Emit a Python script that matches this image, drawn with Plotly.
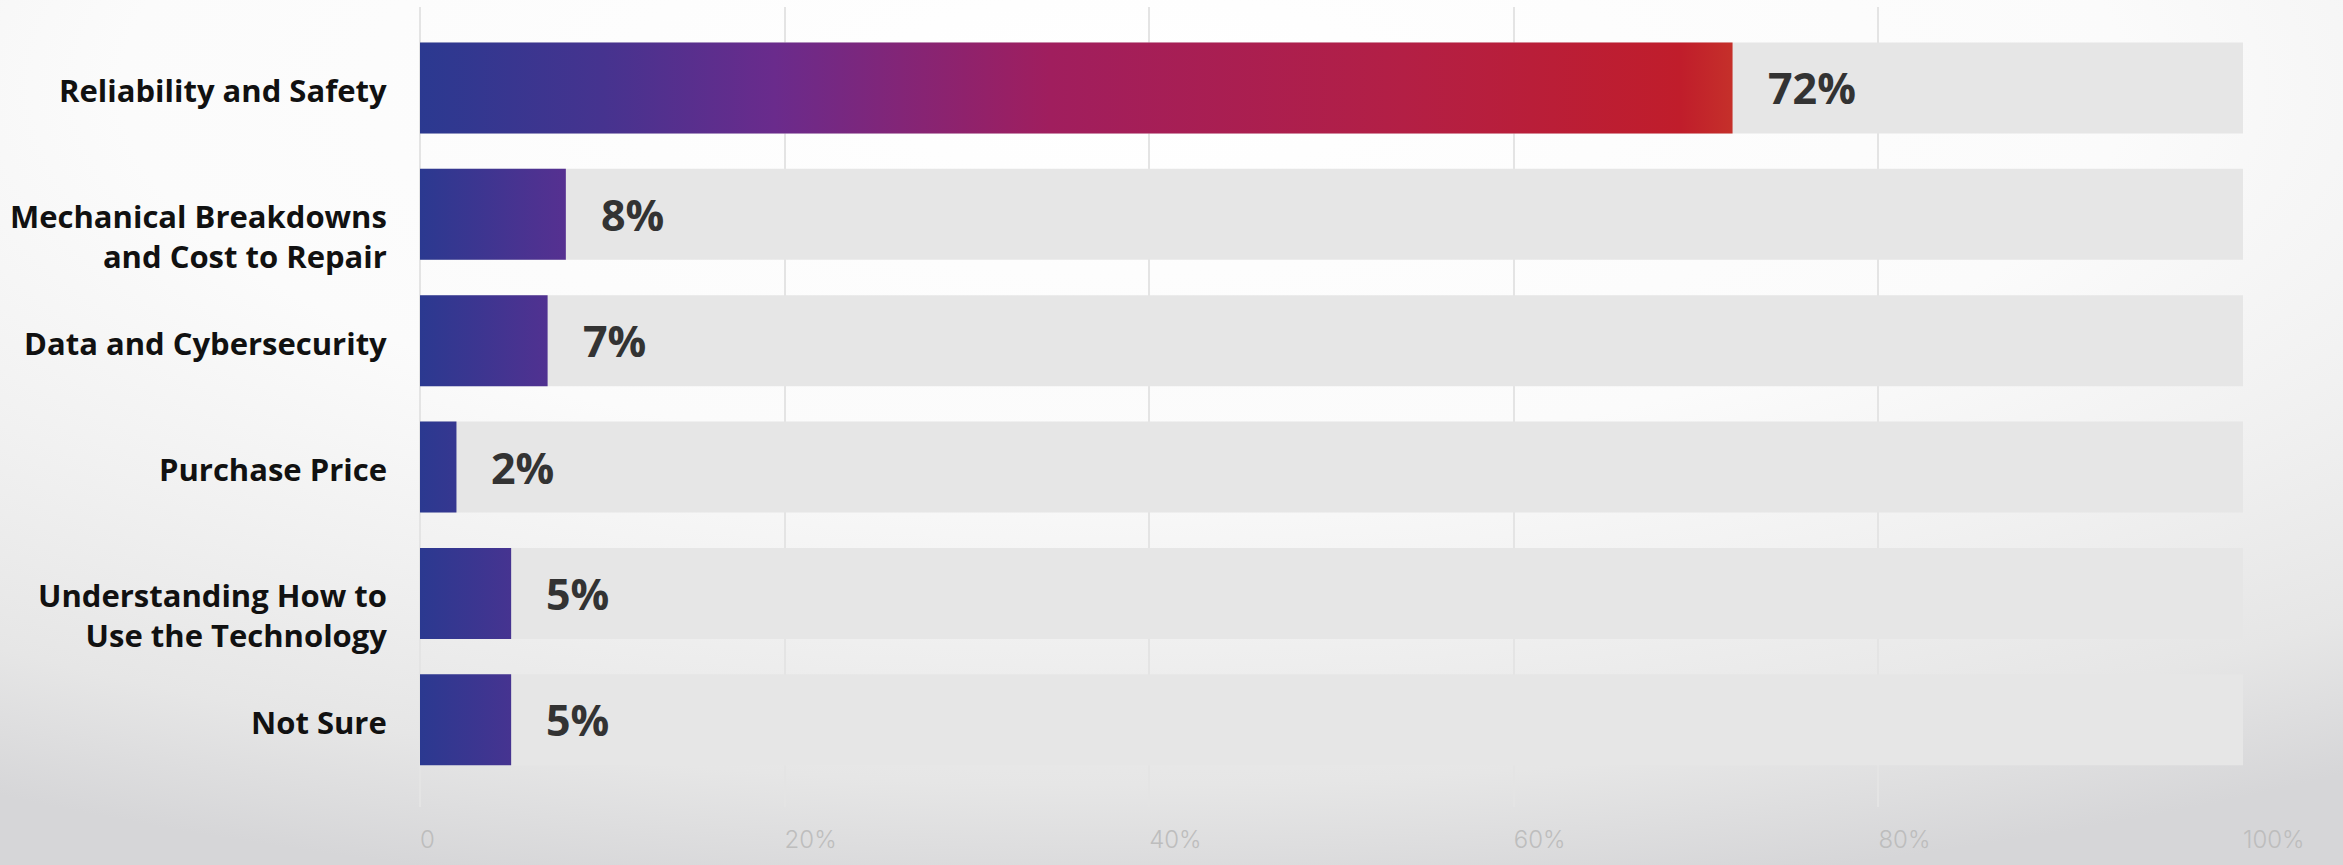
import base64
import plotly.graph_objects as go

# ---------------- data ----------------
categories = [
    "Reliability and Safety",
    "Mechanical Breakdowns<br>and Cost to Repair",
    "Data and Cybersecurity",
    "Purchase Price",
    "Understanding How to<br>Use the Technology",
    "Not Sure",
]
values = [72, 8, 7, 2, 5, 5]
track_value = 100
x_tickvals = [0, 20, 40, 60, 80, 100]
x_ticktext = ["0", "20%", "40%", "60%", "80%", "100%"]

# ---------------- styles ----------------
BAR_W = 0.72
TRACK_COLOR = "#e6e6e6"
LONG_SCALE = [[0, "#2b3990"], [0.14, "#46338f"], [0.27, "#6a2b8c"], [0.48, "#a01e5e"],
              [0.75, "#b31f45"], [0.96, "#c01d2b"], [1, "#c5302a"]]
SHORT_SCALE = [[0, "#2b3990"], [1, "#662d91"]]
SHORT_SPAN = 11
LABEL_FONT = dict(family="Open Sans", size=31, color="#111111", weight=700)
VALUE_FONT = dict(family="Open Sans", size=43, color="#333333", weight=700)
TICK_FONT = dict(family="Inter", size=24, color="#bdbdbd", weight=300)
GRID = "#e4e4e4"

W, H = 2343, 865
ML, MR, MT, MB = 420, 100, 7, 58
PW, PH = W - ML - MR, H - MT - MB

fig = go.Figure()
idx = list(range(len(categories)))

# background track bars
fig.add_trace(go.Bar(
    x=[track_value] * len(categories), y=idx, orientation="h", width=BAR_W,
    marker=dict(color=TRACK_COLOR, line=dict(width=0)), hoverinfo="skip", showlegend=False,
))

vmax = max(values)
for i, v in zip(idx, values):
    xs = [0, v, v, 0, 0]
    ys = [i - BAR_W / 2, i - BAR_W / 2, i + BAR_W / 2, i + BAR_W / 2, i - BAR_W / 2]
    if v == vmax:
        grad = dict(type="horizontal", colorscale=LONG_SCALE, start=0, stop=v)
    else:
        grad = dict(type="horizontal", colorscale=SHORT_SCALE, start=0, stop=SHORT_SPAN)
    fig.add_trace(go.Scatter(
        x=xs, y=ys, mode="lines", fill="toself", line=dict(width=0, color="rgba(0,0,0,0)"),
        fillgradient=grad, hoverinfo="skip", showlegend=False,
    ))

annotations = []
for i, v in zip(idx, values):
    annotations.append(dict(
        x=v, y=i, xref="x", yref="y", text=f"{v}%", showarrow=False,
        xanchor="left", yanchor="middle", xshift=33, font=VALUE_FONT,
    ))
for i, c in zip(idx, categories):
    multi = "<br>" in c
    annotations.append(dict(
        x=0, y=i, xref="paper", yref="y", text=c, showarrow=False, align="right",
        xanchor="right", yanchor="top" if multi else "middle",
        xshift=-31, yshift=21 if multi else -2, font=LABEL_FONT,
    ))

svg = f'''<svg xmlns="http://www.w3.org/2000/svg" width="{W}" height="{H}" viewBox="0 0 {W} {H}" preserveAspectRatio="none">
<defs><radialGradient id="g" cx="0.48" cy="0.1" r="0.95" gradientUnits="objectBoundingBox">
<stop offset="0" stop-color="#ffffff"/><stop offset="0.45" stop-color="#fbfbfb"/>
<stop offset="0.65" stop-color="#f1f1f1"/><stop offset="0.85" stop-color="#e6e6e6"/>
<stop offset="1" stop-color="#d6d6d8"/></radialGradient></defs>
<rect width="{W}" height="{H}" fill="url(#g)"/></svg>'''
src = "data:image/svg+xml;base64," + base64.b64encode(svg.encode()).decode()

fig.update_layout(
    width=W, height=H,
    margin=dict(l=ML, r=MR, t=MT, b=MB, pad=0, autoexpand=False),
    paper_bgcolor="#f0f0f0", plot_bgcolor="rgba(0,0,0,0)",
    showlegend=False, annotations=annotations,
    images=[dict(source=src, xref="paper", yref="paper", x=-ML / PW, y=1 + MT / PH,
                 sizex=W / PW, sizey=H / PH, xanchor="left", yanchor="top",
                 sizing="stretch", layer="below")],
    xaxis=dict(range=[0, 100], tickvals=x_tickvals, ticktext=x_ticktext,
               showgrid=True, gridcolor=GRID, gridwidth=2,
               zeroline=True, zerolinecolor=GRID, zerolinewidth=2,
               showline=False, ticks="", tickfont=TICK_FONT, automargin=False,
               ticklabelposition="outside right", ticklabelstandoff=16, fixedrange=True),
    yaxis=dict(range=[5.69, -0.64], showticklabels=False, showgrid=False, automargin=False,
               zeroline=False, showline=False, ticks="", fixedrange=True),
)

fig.write_html("out.html")
